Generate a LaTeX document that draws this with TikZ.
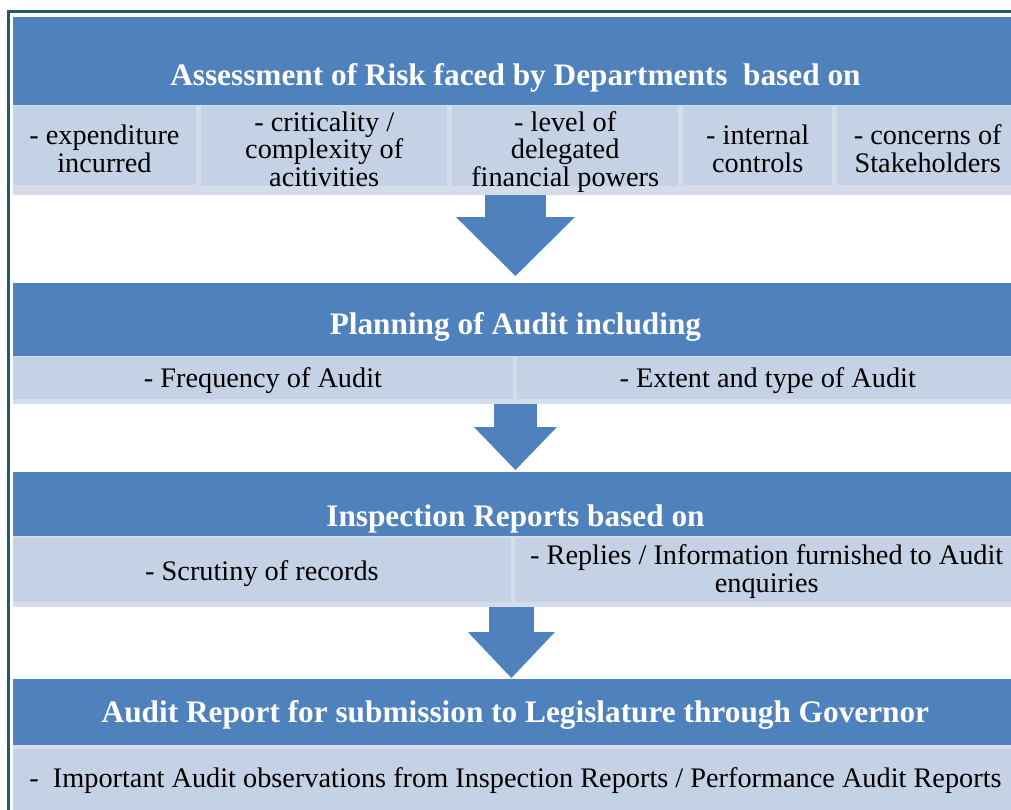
\documentclass[tikz,border=0pt]{standalone}
\usepackage{fontspec}
\setmainfont{Liberation Serif}
\usetikzlibrary{arrows.meta}
\definecolor{hdrblue}{HTML}{4F81BD}
\definecolor{cellblue}{HTML}{C5D1E4}
\definecolor{bandblue}{HTML}{D5DCEA}
\definecolor{frameteal}{HTML}{245B69}

\begin{document}
\begin{tikzpicture}[x=1pt,y=-1pt,inner sep=0pt,anchor=north west,
hdr/.style={fill=hdrblue,text=white,minimum width=1005.5pt,font=\fontsize{31.3}{31.3}\selectfont\bfseries},
band/.style={fill=bandblue,minimum width=1005.5pt},
cell/.style={fill=cellblue,align=center,font=\fontsize{28.3}{27.5}\selectfont},
blockarrow/.style={hdrblue}]

\path[clip,use as bounding box](0,0)rectangle(1011,809);
\draw[frameteal,line width=3pt](8.75,11)rectangle(1021,830);

\node[hdr,text height=68pt,text depth=20pt](h1) at (12.5,17){Assessment of Risk faced by Departments\ \ based on};
\node[band,minimum height=90pt](r1) at (12.5,105){};
\node[cell,minimum width=183.5pt,text height=66pt,text depth=13pt](c11) at (12.5,106){- expenditure\\incurred};
\node[cell,minimum width=246pt,text height=80pt,text depth=-1pt](c12) at (201,106){- criticality /\\complexity of\\acitivities};
\node[cell,minimum width=226pt,text height=80pt,text depth=-1pt](c13) at (452,106){- level of\\delegated\\financial powers};
\node[cell,minimum width=149pt,text height=66pt,text depth=13pt](c14) at (683,106){- internal\\controls};
\node[cell,minimum width=181pt,text height=66pt,text depth=13pt](c15) at (837,106){- concerns of\\Stakeholders};

\node[hdr,text height=51pt,text depth=22pt](h2) at (12.5,283){Planning of Audit including};
\node[band,minimum height=48pt](r2) at (12.5,356){};
\node[cell,minimum width=500.5pt,text height=30pt,text depth=12pt](c21) at (12.5,357){- Frequency of Audit};
\node[cell,minimum width=501pt,text height=30pt,text depth=12pt](c22) at (517,357){- Extent and type of Audit};

\node[hdr,text height=54pt,text depth=10pt](h3) at (12.5,472){Inspection Reports based on};
\node[band,minimum height=71pt](r3) at (12.5,536){};
\node[cell,minimum width=498.5pt,text height=42pt,text depth=22pt](c31) at (12.5,538){- Scrutiny of records};
\node[cell,minimum width=503pt,text height=54pt,text depth=10pt](c32) at (515,538){- Replies / Information furnished to Audit\\enquiries};

\node[hdr,text height=43pt,text depth=23pt](h4) at (12.5,679){Audit Report for submission to Legislature through Governor};
\node[band,minimum height=90pt](r4) at (12.5,745){};
\node[cell,minimum width=1005.5pt,text height=38pt,text depth=48pt](c41) at (12.5,749){-\ \ Important Audit observations from Inspection Reports / Performance Audit Reports};

\draw[blockarrow,line width=61pt,shorten >=7pt,-{Triangle[length=59pt,width=119pt,line width=0pt]}](r1.south)--(h2.north);
\draw[blockarrow,line width=43pt,shorten >=2pt,-{Triangle[length=43pt,width=83pt,line width=0pt]}](r2.south)--(h3.north);
\draw[blockarrow,line width=45pt,shorten >=1pt,-{Triangle[length=46pt,width=87pt,line width=0pt]}](c31.south east |- r3.south)--(c31.south east |- h4.north);

\end{tikzpicture}
\end{document}
